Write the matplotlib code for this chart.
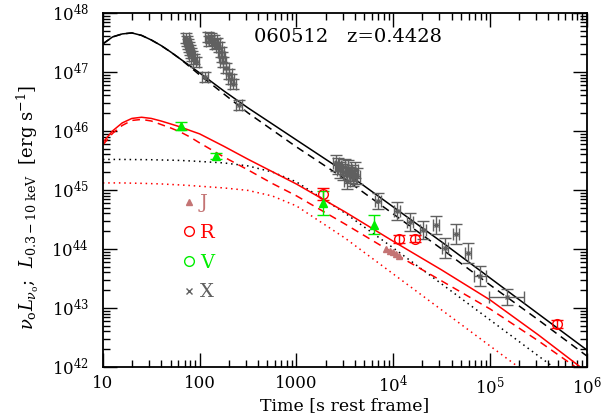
import numpy as np
import matplotlib
matplotlib.use('Agg')
import matplotlib.pyplot as plt
from matplotlib.lines import Line2D
from matplotlib.ticker import LogLocator, NullFormatter

plt.rcParams['font.family'] = ['DejaVu Serif']
plt.rcParams['mathtext.fontset'] = 'dejavuserif'

# model curves: sample times and log10 luminosity
model_logt = [1.0, 1.1, 1.2, 1.3, 1.4, 1.5, 1.6, 1.7, 1.8, 1.9, 2.0,
              2.25, 2.5, 2.75, 3.0, 3.5, 4.0, 4.5, 5.0, 5.5, 6.0]
black_solid = [47.475, 47.593, 47.644, 47.661, 47.619, 47.542, 47.449, 47.339, 47.220, 47.102, 46.983,
               46.678, 46.390, 46.119, 45.847, 45.305, 44.712, 44.119, 43.508, 42.898, 42.288]
black_dashed = [47.475, 47.593, 47.644, 47.661, 47.619, 47.542, 47.449, 47.339, 47.220, 47.085, 46.949,
                46.627, 46.305, 46.017, 45.729, 45.186, 44.593, 44.000, 43.390, 42.797, 42.186]
black_dotted = [45.517, 45.517, 45.517, 45.515, 45.514, 45.512, 45.508, 45.505, 45.500, 45.492, 45.483,
                45.458, 45.407, 45.305, 45.136, 44.610, 44.017, 43.407, 42.797, 42.186, 41.576]
red_solid = [45.805, 46.000, 46.136, 46.212, 46.232, 46.212, 46.169, 46.119, 46.068, 46.008, 45.950,
             45.740, 45.520, 45.310, 45.100, 44.630, 44.130, 43.644, 43.136, 42.542, 41.915]
red_dashed = [45.763, 45.958, 46.093, 46.178, 46.195, 46.169, 46.110, 46.051, 45.983, 45.898, 45.797,
              45.559, 45.339, 45.110, 44.900, 44.424, 43.932, 43.458, 42.983, 42.441, 41.864]
red_dotted = [45.119, 45.119, 45.119, 45.115, 45.112, 45.107, 45.102, 45.093, 45.085, 45.075, 45.063,
              45.034, 44.992, 44.898, 44.729, 44.186, 43.576, 42.966, 42.356, 41.746, 41.136]

# X-ray data: time [s], luminosity, log errors (dex)
x_t = [72, 74, 75.5, 77.3, 79.2, 81.1, 83, 87.1, 91.4,
       122, 124, 131, 140, 144, 151, 158, 166, 169, 174, 187, 200, 210, 220,
       113, 254,
       2550, 2680, 2810, 3020, 3160, 3400, 3560, 3730, 3830, 3320, 4010, 4210,
       6930, 10900, 14800, 20200, 27500, 34100, 44400, 59000, 78500, 149000]
x_L = [3.77e47, 3.35e47, 2.98e47, 2.65e47, 2.36e47, 2.10e47, 1.87e47, 1.66e47, 1.48e47,
       3.92e47, 3.35e47, 3.77e47, 3.48e47, 2.98e47, 3.10e47, 2.65e47, 2.18e47, 1.80e47, 1.48e47,
       1.17e47, 9.25e46, 7.6e46, 6.26e46,
       8.2e46, 2.76e46,
       2.87e45, 2.55e45, 2.18e45, 2.02e45, 2.45e45, 2.36e45, 1.80e45, 1.94e45, 1.60e45, 1.42e45,
       2.18e45, 1.73e45,
       6.5e44, 4.4e44, 2.87e44, 2.10e44, 2.55e44, 1.04e44, 1.80e44, 8.55e43, 3.48e43, 1.53e43]
x_Lerr = [0.08] * 25 + [0.13] * 12 + [0.13, 0.15, 0.15, 0.15, 0.15, 0.17, 0.17, 0.17, 0.17, 0.14]
x_terr = [0.03] * 25 + [0.03] * 12 + [0.03] * 8 + [0.06, 0.18]

# optical / NIR data
j_t = [8400, 9230, 9900, 10600, 11400]
j_L = [1.0e44, 9.2e43, 8.9e43, 8.2e43, 7.6e43]

r_t = [1860, 11500, 16600, 487000]
r_L = [8.5e44, 1.48e44, 1.48e44, 5.4e42]
r_Lerr = [0.10, 0.07, 0.06, 0.07]

v_t = [64, 147, 1890, 6400]
v_L = [1.2e46, 3.77e45, 6.0e44, 2.57e44]
v_Lerr = [0.07, 0.05, 0.2, 0.16]

c_j = '#c47474'
c_r = '#ff0000'
c_v = '#00ee00'
c_x = '#606060'


def log_err(vals, dex):
    vals = np.asarray(vals)
    dex = np.asarray(dex)
    return [vals - vals * 10 ** (-dex), vals * 10 ** dex - vals]


fig = plt.figure(figsize=(6.05, 4.17), dpi=100)
ax = fig.add_axes([0.170, 0.120, 0.800, 0.849])

mt = 10 ** np.array(model_logt)
ax.plot(mt, 10 ** np.array(black_solid), color='black', lw=1.1)
ax.plot(mt, 10 ** np.array(black_dashed), color='black', lw=1.1, ls=(0, (5, 3.5)))
ax.plot(mt, 10 ** np.array(black_dotted), color='black', lw=1.1, ls=(0, (1, 2.5)))
ax.plot(mt, 10 ** np.array(red_solid), color=c_r, lw=1.1)
ax.plot(mt, 10 ** np.array(red_dashed), color=c_r, lw=1.1, ls=(0, (5, 3.5)))
ax.plot(mt, 10 ** np.array(red_dotted), color=c_r, lw=1.1, ls=(0, (1, 2.5)))

ax.errorbar(x_t, x_L, yerr=log_err(x_L, x_Lerr), xerr=log_err(x_t, x_terr),
            fmt='x', color=c_x, ms=3.5, mew=1, elinewidth=1, capsize=4)
ax.plot(j_t, j_L, '^', color=c_j, ms=4.5, mec=c_j)
ax.errorbar(r_t, r_L, yerr=log_err(r_L, r_Lerr), fmt='o', color=c_r, mfc='none',
            ms=7, mew=1, elinewidth=1, capsize=4)
ax.errorbar(v_t, v_L, yerr=log_err(v_L, v_Lerr), fmt='^', color=c_v, ms=5.5,
            elinewidth=1, capsize=4)

ax.set_xscale('log')
ax.set_yscale('log')
ax.set_xlim(10, 1e6)
ax.set_ylim(1e42, 1e48)

ax.set_xticks([10, 100, 1000, 1e4, 1e5, 1e6])
ax.set_xticklabels(['10', '100', '1000', r'$10^{4}$', r'$10^{5}$', r'$10^{6}$'])
ax.set_yticks([1e42, 1e43, 1e44, 1e45, 1e46, 1e47, 1e48])
ax.set_yticklabels([r'$10^{%d}$' % p for p in range(42, 49)])
ax.xaxis.set_minor_locator(LogLocator(base=10, subs=np.arange(2, 10)))
ax.yaxis.set_minor_locator(LogLocator(base=10, subs=np.arange(2, 10)))
ax.xaxis.set_minor_formatter(NullFormatter())
ax.yaxis.set_minor_formatter(NullFormatter())
ax.tick_params(which='both', direction='in', top=True, right=True, labelsize=12)
ax.tick_params(which='major', length=10, width=1)
ax.tick_params(which='minor', length=5, width=1)
ax.tick_params(axis='y', pad=10)
ax.tick_params(axis='x', pad=6)
for s in ax.spines.values():
    s.set_linewidth(1.3)

ax.set_xlabel('Time [s rest frame]', fontsize=12.5, labelpad=0)
ax.set_ylabel(r'$\nu_{\rm o}L_{\nu_{\rm o}}$;  $L_{\rm 0.3-10\ keV}$  [erg s$^{-1}$]',
              fontsize=13)
ax.yaxis.set_label_coords(-0.128, 0.45)

ax.text(0.506, 0.932, '060512   z=0.4428', transform=ax.transAxes,
        ha='center', va='center', fontsize=14)

handles = [Line2D([], [], marker='^', color=c_j, ls='none', ms=4.5),
           Line2D([], [], marker='o', color=c_r, mfc='none', ls='none', ms=7),
           Line2D([], [], marker='o', color=c_v, mfc='none', ls='none', ms=7),
           Line2D([], [], marker='x', color=c_x, ls='none', ms=4)]
leg = ax.legend(handles, ['J', 'R', 'V', 'X'], loc='upper left',
                bbox_to_anchor=(0.142, 0.515), frameon=False, fontsize=14,
                handlelength=0.8, handletextpad=0.15, labelspacing=0.6,
                borderpad=0, labelcolor='linecolor')

fig.savefig('out.png', dpi=100)
